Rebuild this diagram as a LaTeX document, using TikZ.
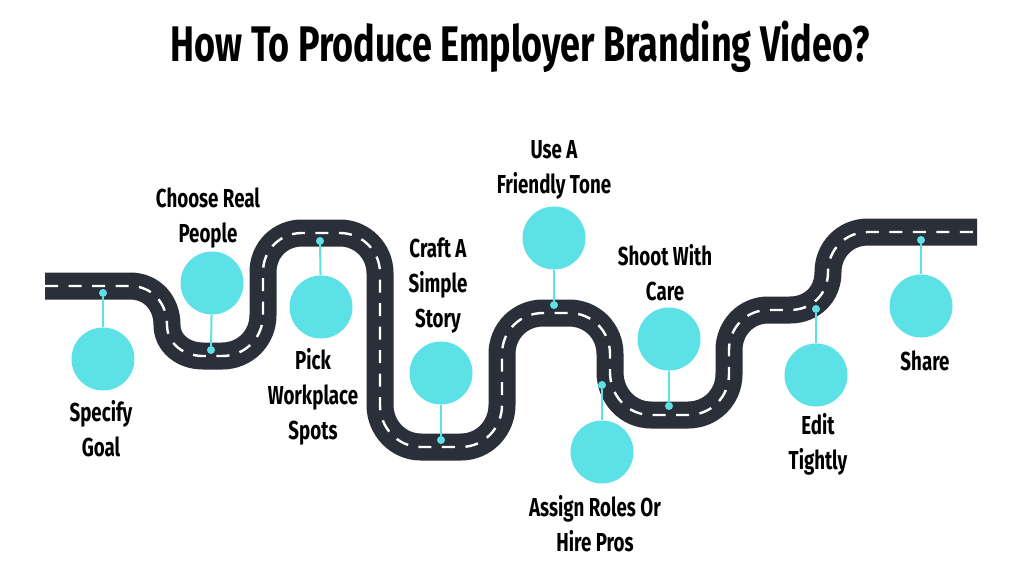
\documentclass[tikz,border=0pt]{standalone}
\usepackage{fontspec}
\setmainfont{Fira Sans}[FakeStretch=0.72,BoldFont={Fira Sans Bold}]
\definecolor{road}{HTML}{2A2F3A}
\definecolor{aqua}{HTML}{5CE1E6}
\tikzset{
  stop/.style={circle,fill=aqua,minimum size=63pt,inner sep=0pt},
  pin/.style={circle,fill=aqua,minimum size=8pt,inner sep=0pt},
  stem/.style={draw=aqua,line width=2pt},
  lbl/.style={align=center,text=black,font=\fontsize{26}{35}\selectfont\bfseries},
  ttl/.style={text=black,font=\fontsize{50}{54}\selectfont\bfseries},
  roadpath/.style={line width=27pt,draw=road},
  roadmark/.style={line width=2.4pt,draw=white,dash pattern=on 13pt off 10.5pt},
}
\def\roadline{(45,286) -- (130,286)
  .. controls (152,286) and (167,303) .. (167,325)
  .. controls (167,343) and (183,356) .. (203,356)
  -- (222,356)
  .. controls (245,356) and (263,338) .. (263,315)
  -- (263,272)
  .. controls (263,250) and (280,233) .. (302,233)
  -- (340,233)
  .. controls (362,233) and (380,251) .. (380,273)
  -- (380,405)
  .. controls (380,428) and (398,447) .. (421,447)
  -- (461,447)
  .. controls (484,447) and (502,428) .. (502,405)
  -- (502,354)
  .. controls (502,331) and (520,313) .. (543,313)
  -- (569,313)
  .. controls (592,313) and (610,331) .. (610,354)
  -- (610,372)
  .. controls (610,396) and (628,415) .. (651,415)
  -- (688,415)
  .. controls (711,415) and (729,397) .. (729,374)
  -- (729,350)
  .. controls (729,328) and (746,310) .. (768,310)
  -- (790,310)
  .. controls (811,310) and (828,295) .. (828,272)
  .. controls (828,250) and (845,232) .. (868,232)
  -- (977,232)}
\begin{document}
\begin{tikzpicture}[x=1pt,y=-1pt]
\useasboundingbox (0,0) rectangle (1024,576);
\fill[white] (0,0) rectangle (1024,576);
\draw[roadpath] \roadline;
\draw[roadmark] \roadline;
\node[ttl] (title) at (520,47) {How To Produce Employer Branding Video?};
\node[stop] (c1) at (103,359) {};
\node[stop] (c2) at (212,283) {};
\node[stop] (c3) at (321,307) {};
\node[stop] (c4) at (441,373) {};
\node[stop] (c5) at (554,238) {};
\node[stop] (c6) at (602,452) {};
\node[stop] (c7) at (669,339) {};
\node[stop] (c8) at (816,375) {};
\node[stop] (c9) at (921,306) {};
\node[pin] (p1) at (103,293) {};
\node[pin] (p2) at (211,350) {};
\node[pin] (p3) at (320,241) {};
\node[pin] (p4) at (441,440) {};
\node[pin] (p5) at (554,305) {};
\node[pin] (p6) at (602,385) {};
\node[pin] (p7) at (669,406) {};
\node[pin] (p8) at (816,309) {};
\node[pin] (p9) at (921,240) {};
\foreach \i in {1,...,9} \draw[stem] (c\i) -- (p\i);
\node[lbl] (t1) at (101,428.5) {Specify\\Goal};
\node[lbl] (t2) at (208,218) {Choose Real\\People};
\node[lbl] (t3) at (313,397) {Pick\\Workplace\\Spots};
\node[lbl] (t4) at (438,286) {Craft A\\Simple\\Story};
\node[lbl] (t5) at (554,169.5) {Use A\\Friendly Tone};
\node[lbl] (t6) at (665,273) {Shoot With\\Care};
\node[lbl] (t7) at (595,524) {Assign Roles Or\\Hire Pros};
\node[lbl] (t8) at (818,444) {Edit\\Tightly};
\node[lbl] (t9) at (925,361) {Share};
\end{tikzpicture}
\end{document}
